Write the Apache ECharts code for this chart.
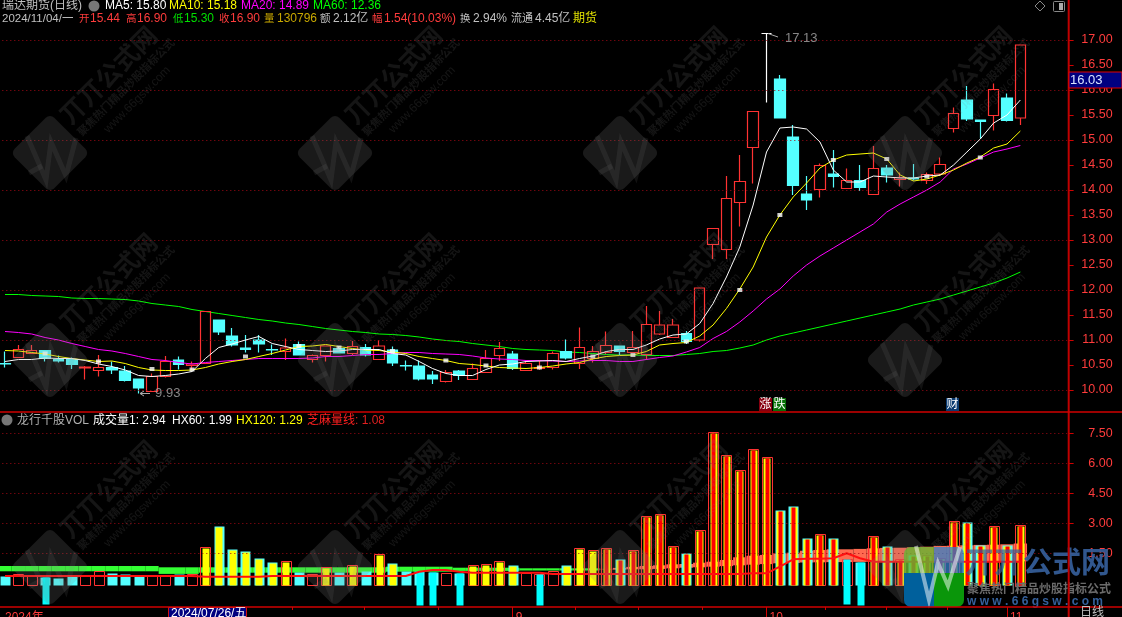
<!DOCTYPE html>
<html><head><meta charset="utf-8">
<style>html,body{margin:0;padding:0;background:#000;overflow:hidden}#c{width:1122px;height:617px}</style>
<script src="https://cdn.jsdelivr.net/npm/echarts@6/dist/echarts.min.js"></script>
</head><body><div id="c"></div>
<script>
const opens=[10.53,10.65,10.73,10.79,10.61,10.61,10.44,10.39,10.45,10.38,10.22,9.97,10.27,10.60,10.49,10.53,11.40,11.08,10.84,11.00,10.81,10.77,10.91,10.61,10.69,10.83,10.73,10.85,10.61,10.80,10.49,10.48,10.30,10.17,10.38,10.21,10.35,10.69,10.72,10.39,10.43,10.45,10.77,10.53,10.63,10.75,10.88,10.75,10.71,11.12,11.05,11.13,11.00,12.91,12.81,13.75,14.85,17.13,16.22,15.06,13.92,14.01,14.32,14.03,14.19,13.91,14.44,14.21,14.24,14.19,14.32,15.23,15.80,15.40,15.49,15.84,15.44];
const closes=[10.52,10.81,10.79,10.63,10.58,10.51,10.46,10.45,10.40,10.19,10.04,10.27,10.57,10.51,10.52,11.57,11.16,10.90,10.81,10.92,10.80,10.84,10.70,10.69,10.88,10.74,10.87,10.70,10.88,10.54,10.48,10.22,10.22,10.35,10.29,10.43,10.63,10.83,10.43,10.53,10.45,10.73,10.64,10.85,10.77,10.89,10.77,10.85,11.31,11.30,11.30,10.97,12.04,13.23,13.83,14.17,15.57,17.13,15.44,14.09,13.80,14.49,14.27,14.19,14.05,14.43,14.30,14.25,14.22,14.31,14.51,15.53,15.42,15.37,16.01,15.39,16.90];
const lows=[10.45,10.65,10.73,10.57,10.55,10.42,10.21,10.27,10.32,10.17,9.93,9.97,10.25,10.41,10.40,10.53,11.10,10.87,10.75,10.75,10.70,10.60,10.70,10.55,10.57,10.73,10.70,10.67,10.60,10.48,10.39,10.19,10.12,10.15,10.20,10.21,10.35,10.58,10.40,10.39,10.40,10.41,10.61,10.42,10.55,10.72,10.70,10.75,10.61,11.10,11.05,10.92,10.97,12.62,12.62,13.27,14.13,15.75,15.44,13.90,13.60,13.85,14.05,14.03,13.98,13.91,14.15,14.07,14.19,14.12,14.28,15.15,15.38,15.03,15.19,15.37,15.30];
const highs=[10.77,10.90,10.90,10.79,10.69,10.65,10.48,10.70,10.57,10.48,10.22,10.33,10.68,10.67,10.57,11.58,11.40,11.24,11.10,11.10,10.91,11.03,10.97,10.71,10.88,10.88,10.98,10.92,11.00,10.87,10.59,10.59,10.38,10.40,10.40,10.53,10.80,10.96,10.78,10.58,10.60,10.77,11.01,11.25,10.88,11.17,10.88,11.18,11.68,11.58,11.42,11.18,12.04,13.23,14.28,14.70,15.57,17.13,16.30,15.30,14.28,14.53,14.80,14.43,14.50,14.88,14.50,14.35,14.52,14.35,14.65,15.65,16.08,15.40,16.13,15.93,16.90];
const ma5=[10.57,10.61,10.61,10.64,10.63,10.63,10.59,10.52,10.47,10.40,10.29,10.27,10.29,10.32,10.37,10.63,10.85,10.92,11.00,11.07,10.93,10.87,10.81,10.79,10.77,10.78,10.81,10.81,10.81,10.73,10.70,10.57,10.43,10.33,10.29,10.29,10.41,10.50,10.52,10.57,10.58,10.59,10.57,10.63,10.68,10.77,10.81,10.81,10.90,11.02,11.10,11.12,11.33,11.73,12.26,12.86,13.70,14.76,15.24,15.26,15.22,14.96,14.40,14.16,14.16,14.28,14.26,14.24,14.24,14.28,14.30,14.50,14.76,15.02,15.34,15.50,15.80];
const ma10=[10.79,10.78,10.75,10.72,10.67,10.63,10.60,10.57,10.58,10.53,10.45,10.40,10.39,10.39,10.40,10.45,10.52,10.57,10.61,10.67,10.73,10.80,10.87,10.88,10.91,10.87,10.83,10.80,10.79,10.76,10.73,10.67,10.63,10.59,10.53,10.51,10.48,10.45,10.44,10.43,10.45,10.48,10.52,10.55,10.62,10.67,10.69,10.70,10.77,10.90,10.93,10.95,11.08,11.30,11.63,12.02,12.46,13.06,13.50,13.86,14.14,14.44,14.60,14.70,14.72,14.74,14.62,14.30,14.18,14.22,14.30,14.40,14.54,14.66,14.84,14.92,15.18];
const ma20=[11.17,11.15,11.12,11.05,11.00,10.93,10.87,10.81,10.78,10.73,10.67,10.61,10.59,10.55,10.52,10.55,10.57,10.59,10.61,10.63,10.63,10.63,10.63,10.64,10.67,10.67,10.69,10.71,10.71,10.73,10.75,10.75,10.73,10.72,10.71,10.68,10.64,10.62,10.61,10.59,10.59,10.58,10.57,10.58,10.59,10.59,10.57,10.57,10.61,10.65,10.68,10.76,10.85,11.03,11.17,11.36,11.58,11.82,12.02,12.28,12.50,12.68,12.84,13.00,13.16,13.32,13.56,13.72,13.86,14.00,14.16,14.42,14.52,14.64,14.76,14.82,14.89];
const ma60=[11.91,11.91,11.89,11.88,11.87,11.84,11.83,11.83,11.82,11.81,11.78,11.73,11.70,11.67,11.61,11.57,11.53,11.49,11.45,11.41,11.38,11.34,11.31,11.27,11.23,11.20,11.17,11.15,11.12,11.11,11.09,11.06,11.02,10.99,10.97,10.93,10.90,10.87,10.83,10.81,10.80,10.79,10.76,10.75,10.73,10.71,10.70,10.70,10.69,10.69,10.69,10.71,10.73,10.77,10.79,10.84,10.90,11.00,11.08,11.14,11.20,11.26,11.32,11.38,11.44,11.50,11.56,11.62,11.70,11.76,11.82,11.90,11.98,12.06,12.14,12.24,12.36];
const markerIdx=[3,7,11,14,18,22,25,29,33,36,40,44,47,51,55,58,62,66,69,73];
const markerVal=[10.73,10.57,10.42,10.41,10.67,10.88,10.85,10.78,10.59,10.49,10.45,10.67,10.70,10.97,12.00,13.50,14.60,14.62,14.27,14.65];
const volumes=[.365,.465,.365,.30,.25,.415,.415,.60,.53,.465,.415,.365,.415,.465,.465,1.815,2.865,1.715,1.615,1.265,1.065,1.115,.58,.465,.80,.58,.915,.63,1.465,1.015,.615,.63,.565,.53,.515,.915,.965,1.115,.915,.515,.465,.615,.915,1.765,1.665,1.765,1.215,1.665,3.365,3.465,1.865,1.515,2.665,7.56,6.4,5.67,6.715,6.3,3.665,3.865,2.265,2.465,2.265,1.2,1.08,2.365,1.865,1.2,1.4,1.4,1.25,3.115,3.05,1.9,2.865,1.9,2.94];
const barKinds=[0,0,0,3,0,0,0,0,0,0,0,0,0,0,0,1,1,1,1,1,1,1,0,0,1,0,1,0,1,1,0,3,3,0,3,1,1,1,1,0,3,0,1,1,1,2,2,2,2,2,2,2,2,2,2,2,2,2,2,2,2,2,2,3,3,2,2,2,2,2,2,2,2,2,2,2,2];
const hx60=[.60,.60,.60,.60,.60,.60,.60,.60,.60,.60,.60,.60,.47,.47,.47,.53,.53,.53,.53,.53,.53,.53,.53,.53,.53,.53,.53,.53,.53,.58,.58,.58,.58,.58,.62,.62,.62,.62,.62,.64,.64,.64,.64,.64,.64,.72,.77,.82,.865,.90,.95,.965,1.03,1.08,1.165,1.30,1.38,1.42,1.50,1.53,1.63,1.665,1.70,1.70,1.72,1.75,1.77,1.78,1.80,1.83,1.87,1.88,1.90,1.92,1.93,1.95,1.99];
const hx120=[.865,.865,.865,.865,.865,.865,.865,.865,.865,.865,.865,.865,.80,.80,.80,.80,.80,.80,.80,.80,.80,.80,.80,.80,.80,.80,.80,.80,.80,.83,.83,.83,.83,.83,.78,.78,.78,.78,.78,.75,.75,.75,.75,.75,.75,.70,.68,.70,.70,.72,.75,.78,.80,.83,.86,.90,.93,.96,1.00,1.02,1.04,1.05,1.06,1.06,1.07,1.08,1.08,1.08,1.08,1.08,1.08,1.09,1.09,1.10,1.10,1.10,1.10];
const sesameLine=[.365,.365,.365,.365,.365,.365,.365,.365,.365,.365,.365,.365,.365,.365,.365,.33,.33,.33,.33,.33,.365,.365,.365,.365,.365,.365,.365,.365,.365,.365,.365,.58,.665,.665,.58,.53,.53,.53,.53,.53,.53,.465,.465,.465,.465,.465,.465,.465,.465,.465,.465,.465,.465,.465,.465,.465,.50,.50,.83,1.2,1.23,1.23,1.25,1.5,1.25,1.08,1.08,1.08,1.08,1.08,1.08,1.08,1.08,1.08,1.08,1.08,1.08];
const priceTicks=[10,10.5,11,11.5,12,12.5,13,13.5,14,14.5,15,15.5,16,16.5,17];
const priceGrid=[10,11,12,13,14,15,16,17];
const volTicks=[1.5,3,4.5,6,7.5];
const axisLabelIdx=[0,38,57,75];
const axisLabelText=['2024年','9','10','11'];
const CAT_COUNT=80;

const F='"Liberation Sans","Noto Sans CJK SC",sans-serif';
const RED='#ff3c3c',CY='#54ffff';
const categories=[];
for(let i=0;i<CAT_COUNT;i++){
  const k=axisLabelIdx.indexOf(i);
  categories.push({value:k>=0?axisLabelText[k]:String(i),textStyle:{align:'left',padding:[2,0,0,k>=1?3:0]}});
}
const candleData=opens.map((o,i)=>{
  const d={value:[o,closes[i],lows[i],highs[i]]};
  if(i===57)d.itemStyle={color:'#fff',color0:'#fff',borderColor:'#fff',borderColor0:'#fff',borderColorDoji:'#fff'};
  return d;
});
const bandData=hx60.map((v,i)=>[i,v,hx120[i]]);
const barData=volumes.map((v,i)=>[i,v,closes[i]>=opens[i]?1:-1,barKinds[i]]);

function renderBand(p,api){
  const i=api.value(0),a=api.value(1),b=api.value(2);
  const w=api.size([1,0])[0];
  const t=api.coord([i,Math.max(a,b)]),m=api.coord([i,Math.min(a,b)]);
  return {type:'rect',shape:{x:t[0]-w/2,y:t[1],width:w,height:m[1]-t[1]},style:{fill:a>b?'#ff6a50':'#33ff33'}};
}
const BASE=-0.085,DROP=-1.07;
function renderBar(p,api){
  const i=api.value(0),v=api.value(1),dir=api.value(2),kind=api.value(3);
  const w=api.size([1,0])[0];
  const top=api.coord([i,v]),base=api.coord([i,BASE]);
  const rect=(bw,y0,y1,fill,stroke)=>({type:'rect',shape:{x:Math.round(top[0]-bw/2)+.5,y:Math.round(y0)+.5,width:bw,height:Math.round(y1-y0)},
    style:{fill:fill,stroke:stroke||null,lineWidth:stroke?1:0}});
  const ch=[];
  const ow=Math.round(w*.78);
  if(dir>0)ch.push(rect(ow,top[1],base[1],'rgba(0,0,0,0)','#ff3232'));
  else ch.push(rect(ow,top[1],base[1],CY));
  if(kind===1||kind===2)ch.push(rect(Math.round(w*.52),top[1]+1,base[1],'#ffff00'));
  if(kind===2)ch.push(rect(4,top[1]+1,base[1],'#ff0000'));
  if(kind===3){const d=api.coord([i,DROP]);ch.push(rect(7,top[1],d[1],'#00ffff'));}
  return {type:'group',children:ch};
}

const g=[];
const txt=(x,y,s,c,sz)=>g.push({type:'text',x,y,z:200,silent:true,style:{text:s,fill:c,font:(sz||12)+'px '+F,verticalAlign:'middle',align:'left'}});
const ln=(x1,y1,x2,y2,c,w,z)=>g.push({type:'line',z:z||150,silent:true,shape:{x1,y1,x2,y2},style:{stroke:c,lineWidth:w||1}});

// watermark
const WMX=[50,335,620,905],WMY=[153,360,567];
const wmc='rgba(128,128,128,.16)',wmf='rgba(128,128,128,.2)';
WMX.forEach(cx=>WMY.forEach(cy=>{
  g.push({type:'group',x:cx,y:cy,rotation:Math.PI/4,z:120,silent:true,children:[
    {type:'rect',z:120,shape:{x:-28,y:-28,width:56,height:56,r:6},style:{fill:wmf}},
    {type:'text',z:120,x:34,y:-14,style:{text:'丌丌公式网',fill:wmc,font:'bold 25px "Noto Sans CJK SC"',verticalAlign:'middle'}},
    {type:'text',z:120,x:34,y:7,style:{text:'聚焦热门精品炒股指标公式',fill:wmc,font:'bold 11px "Noto Sans CJK SC"',verticalAlign:'middle'}},
    {type:'text',z:120,x:55,y:24,style:{text:'www.66gsw.com',fill:wmc,font:'12px '+F,verticalAlign:'middle'}}
  ]});
  g.push({type:'polyline',z:121,silent:true,shape:{points:[[cx-23,cy-17],[cx-4,cy+27],[cx+1,cy-11],[cx+16,cy+23],[cx+26,cy-15]]},style:{stroke:'rgba(128,128,128,.13)',fill:null,lineWidth:5}});
  g.push({type:'line',z:121,silent:true,shape:{x1:cx-21,y1:cy+20,x2:cx-8,y2:cy+13},style:{stroke:'rgba(128,128,128,.13)',lineWidth:5}});
}));

// corner logo
g.push({type:'rect',z:130,silent:true,shape:{x:904,y:547,width:30,height:26,r:[7,0,0,0]},style:{fill:'rgba(95,185,45,.75)'}});
g.push({type:'rect',z:130,silent:true,shape:{x:934,y:547,width:30,height:26,r:[0,7,0,0]},style:{fill:'rgba(50,130,200,.75)'}});
g.push({type:'rect',z:130,silent:true,shape:{x:904,y:573,width:30,height:34,r:[0,0,0,7]},style:{fill:'#00609c'}});
g.push({type:'rect',z:130,silent:true,shape:{x:934,y:573,width:30,height:34,r:[0,0,7,0]},style:{fill:'#0a960a'}});
g.push({type:'polyline',z:131,silent:true,shape:{points:[[916,546],[929,600],[938,563],[948,586],[960,547]]},style:{stroke:'rgba(255,255,255,.5)',fill:null,lineWidth:4}});
g.push({type:'text',z:132,silent:true,x:965,y:562,style:{text:'丌丌',fill:'rgba(52,92,150,.7)',font:'bold 29px "Noto Sans CJK SC"',verticalAlign:'middle'}});
g.push({type:'text',z:132,silent:true,x:1023,y:562,style:{text:'公式网',fill:'rgba(52,92,150,.95)',font:'bold 29px "Noto Sans CJK SC"',verticalAlign:'middle'}});
g.push({type:'text',z:132,silent:true,x:967,y:588,style:{text:'聚焦热门精品炒股指标公式',fill:'#6b6b6b',font:'bold 12px "Noto Sans CJK SC"',verticalAlign:'middle'}});
g.push({type:'text',z:132,silent:true,x:967,y:602,style:{text:'w w w . 6 6 g s w . c o m',fill:'#34609c',font:'bold 12px '+F,verticalAlign:'middle'}});

// frame
ln(1068.7,0,1068.7,617,'#c00000',2);
ln(0,412,1122,412,'#d00000',1.5);
ln(0,607,1122,607,'#d00000',1.5);
[292,364,438,575,638,702,825,886,947].forEach(x=>ln(x+.5,607,x+.5,610,'#d00000',1));
[512.5,766.5,1007.5].forEach(x=>ln(x,607,x,617,'#d00000',1));
// date box
g.push({type:'rect',z:190,silent:true,shape:{x:168.5,y:607.5,width:78,height:12},style:{fill:'#000080',stroke:'#d01010',lineWidth:1}});
txt(171,614,'2024/07/26/五','#ffffff',12);

// header row 1
txt(2,6,'瑞达期货(日线)','#c0c0c0',12);
g.push({type:'circle',z:200,silent:true,shape:{cx:94,cy:6,r:5.5},style:{fill:'#777'}});
txt(105,6,'MA5: 15.80','#ffffff',12);
txt(169,6,'MA10: 15.18','#ffff00',12);
txt(241,6,'MA20: 14.89','#ff00ff',12);
txt(313,6,'MA60: 12.36','#00ff00',12);
// header row 2
const row2=[[2,'2024/11/04/一','#c0c0c0',11.5],[79,'开',RED,10.5],[90,'15.44',RED],[126,'高',RED,10.5],[137,'16.90',RED],[173,'低','#00e000',10.5],[184,'15.30','#00e000'],[219,'收',RED,10.5],[230,'16.90',RED],[264,'量','#c8a800',10.5],[277,'130796','#c8a800'],[320,'额','#c0c0c0',10.5],[333,'2.12亿','#c0c0c0'],[372,'幅',RED,10.5],[384,'1.54(10.03%)',RED],[460,'换','#c0c0c0',10.5],[473,'2.94%','#c0c0c0'],[511,'流通','#c0c0c0',11],[535,'4.45亿','#c0c0c0'],[573,'期货','#e0e000',12]];
row2.forEach(r=>txt(r[0],19,r[1],r[2],r[3]||12));
// lower header
g.push({type:'circle',z:200,silent:true,shape:{cx:7,cy:420,r:5.5},style:{fill:'#777'}});
txt(17,421,'龙行千股VOL','#b0b0b0',12);
txt(93,421,'成交量1: 2.94','#ffffff',12);
txt(172,421,'HX60: 1.99','#ffffff',12);
txt(236,421,'HX120: 1.29','#ffff00',12);
txt(307,421,'芝麻量线','#ff2020',12);
txt(355,421,': 1.08','#e02020',12);
txt(1080,613,'日线','#c0c0c0',12);
// price tag
g.push({type:'rect',z:190,silent:true,shape:{x:1069,y:72,width:53,height:16},style:{fill:'#000080',stroke:'#e00000',lineWidth:1}});
txt(1070,80,'16.03','#d8e4ff',13);
// icons
g.push({type:'polygon',z:190,silent:true,shape:{points:[[1040,1],[1045,6],[1040,11],[1035,6]]},style:{fill:null,stroke:'#888',lineWidth:1}});
g.push({type:'rect',z:190,silent:true,shape:{x:1053.5,y:1.5,width:11,height:10,r:1},style:{fill:null,stroke:'#888',lineWidth:1}});
g.push({type:'rect',z:190,silent:true,shape:{x:1059,y:3,width:4,height:7},style:{fill:'#aaa'}});
// tags
[[759,'涨','#880010'],[773,'跌','#087008'],[946,'财','#0a3a70']].forEach(t=>{
  g.push({type:'rect',z:190,silent:true,shape:{x:t[0],y:398,width:13,height:13},style:{fill:t[2]}});
  txt(t[0]+.5,404.5,t[1],'#ffffff',12);
});
// arrows for extremes
ln(140,393.5,150,393.5,'#aaa',1);ln(140,393.5,144,391,'#aaa',1);ln(140,393.5,144,396,'#aaa',1);
ln(768,33.5,778,37,'#aaa',1);

const grids=[{left:-1.68,top:28,width:1068.8,height:384,outerBoundsMode:'none'},{left:-1.68,top:412,width:1068.8,height:195,outerBoundsMode:'none'}];
const chart=echarts.init(document.getElementById('c'),null,{renderer:'canvas'});
const lineS=(name,data,color,z,extra)=>Object.assign({name,type:'line',data,xAxisIndex:0,yAxisIndex:0,symbol:'none',z:z,silent:true,animation:false,lineStyle:{color,width:1}},extra||{});
const dotted={type:[1,3],color:'#a00814',width:1};
chart.setOption({
  animation:false,backgroundColor:'#000',
  textStyle:{fontFamily:F},
  tooltip:{show:false},legend:{show:false},
  grid:grids,
  xAxis:[
    {type:'category',gridIndex:0,data:categories.map(c=>c.value),boundaryGap:true,axisLine:{show:false},axisTick:{show:false},axisLabel:{show:false},splitLine:{show:false}},
    {type:'category',gridIndex:1,data:categories,boundaryGap:true,axisLine:{show:false},axisTick:{show:false},splitLine:{show:false},
     axisLabel:{show:true,interval:(i)=>axisLabelIdx.includes(i),formatter:(v)=>v,color:RED,fontSize:12,fontFamily:F,margin:3,hideOverlap:false}}
  ],
  yAxis:[
    {type:'value',gridIndex:0,position:'right',offset:1.5,min:9.56,max:17.24,scale:true,axisLine:{show:false},
     axisTick:{show:true,length:5,customValues:priceTicks,lineStyle:{color:'#d00000'}},
     axisLabel:{customValues:priceTicks,formatter:v=>v.toFixed(2),color:RED,fontSize:12.5,fontFamily:F,align:'right',margin:44,padding:[2,0,0,0]},splitLine:{show:false}},
    {type:'value',gridIndex:1,position:'right',offset:1.5,min:-1.185,max:8.565,scale:true,axisLine:{show:false},
     axisTick:{show:true,length:5,customValues:volTicks,lineStyle:{color:'#d00000'}},
     axisLabel:{customValues:volTicks,formatter:v=>v.toFixed(2),color:RED,fontSize:12.5,fontFamily:F,align:'right',margin:44},splitLine:{show:false}}
  ],
  series:[
    lineS('MA60',ma60,'#00ff00',2,{markLine:{silent:true,symbol:'none',animation:false,label:{show:false},lineStyle:dotted,data:priceGrid.map(v=>({yAxis:v}))}}),
    {name:'K',type:'candlestick',xAxisIndex:0,yAxisIndex:0,data:candleData,barWidth:11,z:3,silent:true,
     itemStyle:{color:'rgba(0,0,0,0)',color0:CY,borderColor:'#ff3232',borderColor0:CY,borderColorDoji:'#ff3232',borderWidth:1.2}},
    lineS('MA20',ma20,'#ff00ff',4),
    lineS('MA10',ma10,'#ffff00',5),
    lineS('MA5',ma5,'#ffffff',6),
    {name:'marks',type:'scatter',xAxisIndex:0,yAxisIndex:0,symbol:'rect',symbolSize:[5,4],z:7,silent:true,itemStyle:{color:'#fff'},
     data:markerIdx.map((m,i)=>[m,markerVal[i]])},
    {name:'extreme',type:'scatter',xAxisIndex:0,yAxisIndex:0,symbol:'circle',symbolSize:1,z:8,silent:true,itemStyle:{color:'rgba(0,0,0,0)'},
     data:[{value:[10,9.93],label:{offset:[11,0]}},{value:[57,17.13],label:{offset:[13,4.5]}}],
     label:{show:true,position:'right',color:'#a8a8a8',fontSize:13,fontFamily:F,formatter:p=>p.value[1].toFixed(2)}},
    {name:'grid2',type:'line',xAxisIndex:1,yAxisIndex:1,data:hx120,symbol:'none',z:1,silent:true,lineStyle:{opacity:0},
     markLine:{silent:true,symbol:'none',animation:false,label:{show:false},lineStyle:dotted,data:volTicks.map(v=>({yAxis:v}))}},
    {name:'band',type:'custom',xAxisIndex:1,yAxisIndex:1,data:bandData,renderItem:renderBand,encode:{x:0,y:[1,2]},z:2,silent:true},
    {name:'vol',type:'custom',xAxisIndex:1,yAxisIndex:1,data:barData,renderItem:renderBar,encode:{x:0,y:1},z:3,silent:true},
    {name:'芝麻量线',type:'line',xAxisIndex:1,yAxisIndex:1,data:sesameLine,symbol:'none',z:4,silent:true,lineStyle:{color:'#ff1010',width:2}}
  ],
  graphic:{elements:g}
});
</script></body></html>
